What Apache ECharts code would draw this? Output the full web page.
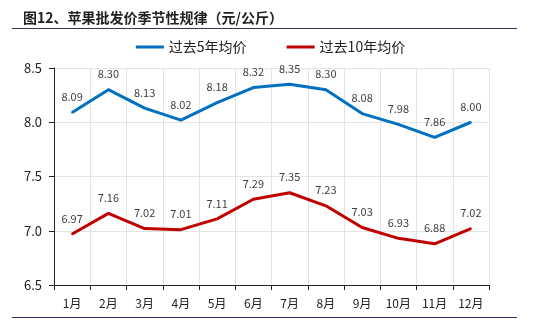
<!DOCTYPE html>
<html><head><meta charset="utf-8">
<script src="https://cdn.jsdelivr.net/npm/echarts@6/dist/echarts.min.js"></script>
<style>html,body{margin:0;padding:0;background:#fff}#c{width:541px;height:335px}</style>
</head><body><div id="c"></div>
<script>
const categories = ['1月','2月','3月','4月','5月','6月','7月','8月','9月','10月','11月','12月'];
const avg5 = [8.09, 8.30, 8.13, 8.02, 8.18, 8.32, 8.35, 8.30, 8.08, 7.98, 7.86, 8.00];
const avg10 = [6.97, 7.16, 7.02, 7.01, 7.11, 7.29, 7.35, 7.23, 7.03, 6.93, 6.88, 7.02];
const seriesNames = ['过去5年均价', '过去10年均价'];
const titleText = '图12、苹果批发价季节性规律（元/公斤）';

const chart = echarts.init(document.getElementById('c'), null, {renderer: 'canvas'});
const font = '"Noto Sans CJK SC", "Noto Sans", sans-serif';
function lbl() {
  return {show: true, position: 'top', distance: 9, color: '#404040', fontSize: 11, fontFamily: font,
    formatter: function (p) { return Number(p.value).toFixed(2); }};
}
function mk(name, data, color) {
  return {name: name, type: 'line', data: data, symbol: 'circle', symbolSize: 2, showSymbol: true,
    showAllSymbol: true, color: color, itemStyle: {color: color},
    lineStyle: {width: 3, color: color}, label: lbl()};
}
chart.setOption({
  animation: false,
  title: {text: titleText, left: 18, top: 6,
    textStyle: {fontSize: 14, fontWeight: 'bold', color: '#222', fontFamily: font}},
  graphic: [
    {type: 'line', shape: {x1: 12, y1: 28.5, x2: 517, y2: 28.5}, style: {stroke: '#333366', lineWidth: 1}},
    {type: 'line', shape: {x1: 12, y1: 317.5, x2: 517, y2: 317.5}, style: {stroke: '#333366', lineWidth: 1}}
  ],
  legend: {top: 35, left: 'center', itemWidth: 28, itemHeight: 3, itemGap: 40,
    icon: 'rect',
    textStyle: {fontSize: 14, color: '#222', fontFamily: font}},
  grid: {left: 54, right: 52, top: 68, bottom: 50, containLabel: false},
  xAxis: {type: 'category', data: categories, boundaryGap: true,
    axisLine: {lineStyle: {color: '#222'}},
    axisTick: {show: true, length: 5, lineStyle: {color: '#222'}},
    axisLabel: {fontSize: 12, color: '#222', margin: 12, fontFamily: font},
    splitLine: {show: true, lineStyle: {color: '#e3e3e3'}}},
  yAxis: {type: 'value', min: 6.5, max: 8.5, interval: 0.5,
    axisLine: {show: true, lineStyle: {color: '#222'}},
    axisTick: {show: true, length: 5, lineStyle: {color: '#222'}},
    axisLabel: {fontSize: 13, color: '#222', margin: 12, fontFamily: font, formatter: function (v) { return v.toFixed(1); }},
    splitLine: {show: true, lineStyle: {color: '#e3e3e3'}}},
  series: [mk(seriesNames[0], avg5, '#0070C0'), mk(seriesNames[1], avg10, '#C00000')]
});
</script></body></html>
